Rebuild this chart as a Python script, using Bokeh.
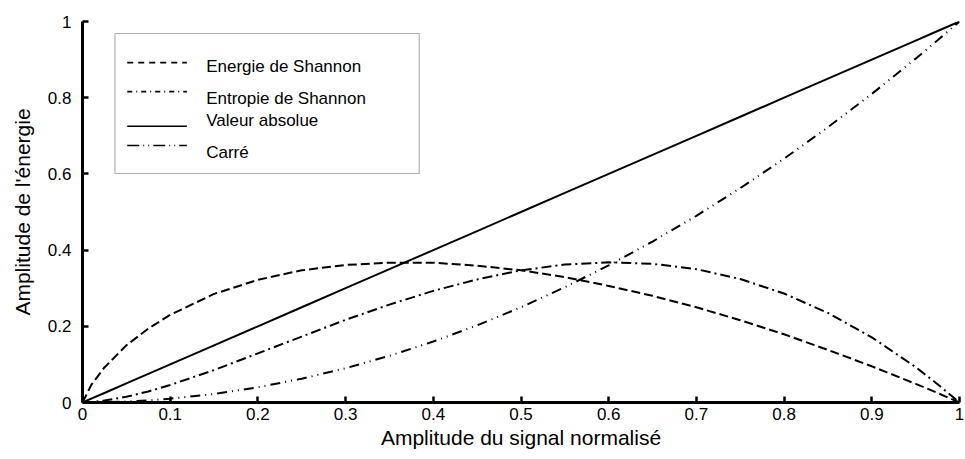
from bokeh.plotting import figure
from bokeh.models import Range1d, FixedTicker, BoxAnnotation, Label, Arrow
from bokeh.embed import file_html
from bokeh.resources import INLINE

# Normalised signal amplitude (x) and the four energy measures
amplitude = [0, 0.01, 0.025, 0.05, 0.075, 0.1, 0.15, 0.2, 0.25, 0.3, 0.35, 0.4, 0.45,
             0.5, 0.55, 0.6, 0.65, 0.7, 0.75, 0.8, 0.85, 0.9, 0.95, 0.975, 1]
energie_shannon = [0, 0.046, 0.092, 0.150, 0.194, 0.230, 0.285, 0.322, 0.347, 0.361, 0.367,
                   0.367, 0.359, 0.347, 0.329, 0.306, 0.280, 0.250, 0.216, 0.179, 0.138,
                   0.095, 0.049, 0.025, 0]
entropie_shannon = [0, 0.001, 0.005, 0.015, 0.029, 0.046, 0.085, 0.129, 0.173, 0.217, 0.257,
                    0.293, 0.323, 0.347, 0.362, 0.368, 0.364, 0.350, 0.324, 0.286, 0.235,
                    0.171, 0.093, 0.048, 0]
valeur_absolue = [0, 0.01, 0.025, 0.05, 0.075, 0.1, 0.15, 0.2, 0.25, 0.3, 0.35, 0.4, 0.45,
                  0.5, 0.55, 0.6, 0.65, 0.7, 0.75, 0.8, 0.85, 0.9, 0.95, 0.975, 1]
carre = [0, 0.0001, 0.0006, 0.0025, 0.0056, 0.01, 0.0225, 0.04, 0.0625, 0.09, 0.1225, 0.16,
         0.2025, 0.25, 0.3025, 0.36, 0.4225, 0.49, 0.5625, 0.64, 0.7225, 0.81, 0.9025,
         0.9506, 1]

series_names = ["Energie de Shannon", "Entropie de Shannon", "Valeur absolue", "Carré"]

x_ticks = [0, 0.1, 0.2, 0.3, 0.4, 0.5, 0.6, 0.7, 0.8, 0.9, 1]
x_tick_labels = ["0", "0.1", "0.2", "0.3", "0.4", "0.5", "0.6", "0.7", "0.8", "0.9", "1"]
y_ticks = [0, 0.2, 0.4, 0.6, 0.8, 1]
y_tick_labels = ["0", "0.2", "0.4", "0.6", "0.8", "1"]

FONT = "Liberation Sans"

p = figure(width=965, height=459, output_backend="svg", toolbar_location=None,
           x_range=Range1d(0, 1), y_range=Range1d(0, 1),
           min_border_left=82, min_border_right=6, min_border_top=21, min_border_bottom=57)
p.outline_line_color = None
p.grid.grid_line_color = None
p.background_fill_color = "white"
p.border_fill_color = "white"

for ax, ticks, labels in ((p.xaxis[0], x_ticks, x_tick_labels), (p.yaxis[0], y_ticks, y_tick_labels)):
    ax.ticker = FixedTicker(ticks=ticks)
    ax.major_label_overrides = dict(zip(ticks, labels))
    ax.minor_tick_line_color = None
    ax.major_tick_in = 6
    ax.major_tick_out = 0
    ax.major_tick_line_width = 2.5
    ax.axis_line_width = 3
    ax.axis_line_color = "black"
    ax.major_tick_line_color = "black"
    ax.major_label_text_font = FONT
    ax.major_label_text_font_size = "17px"
    ax.major_label_text_color = "black"
    ax.axis_label_text_font = FONT
    ax.axis_label_text_font_size = "21px"
    ax.axis_label_text_font_style = "normal"
    ax.axis_label_text_color = "black"

p.xaxis.axis_label = "Amplitude du signal normalisé"
p.yaxis.axis_label = "Amplitude de l'énergie"
p.xaxis.major_label_standoff = 5
p.yaxis.major_label_standoff = 11
p.xaxis.axis_label_standoff = 3
p.yaxis.axis_label_standoff = 11

# curve dash patterns, and the shorter ones used in the legend samples
dashes = ["9 4", "10 4 2 4", "solid", "10 5 1 5 1 5"]
legend_dashes = ["6 5", "5 4 1 4", "solid", "12 4 1 4 1 4"]
curves = [energie_shannon, entropie_shannon, valeur_absolue, carre]

for ys, dash in zip(curves, dashes):
    p.line(amplitude, ys, line_color="black", line_width=2, line_dash=dash)

# Legend box drawn by hand (uneven row spacing)
p.add_layout(BoxAnnotation(left=0.037, right=0.384, bottom=0.601, top=0.9685,
                           fill_color="white", fill_alpha=1.0,
                           line_color="black", line_width=1.2))
sample_y = [0.892, 0.816, 0.725, 0.6745]
text_y = [0.882, 0.798, 0.740, 0.656]
for name, dash, sy, ty in zip(series_names, legend_dashes, sample_y, text_y):
    p.add_layout(Arrow(end=None, x_start=0.051, y_start=sy, x_end=0.119, y_end=sy,
                       line_color="black", line_width=1.6, line_dash=dash))
    p.add_layout(Label(x=0.141, y=ty, text=name, text_font=FONT, text_font_size="17px",
                       text_color="black", text_baseline="alphabetic", text_align="left"))

open("out.html", "w").write(file_html(p, INLINE))
